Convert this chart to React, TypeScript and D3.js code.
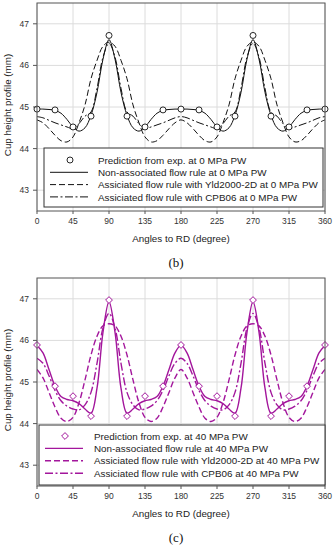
import React from 'react';
import * as d3 from 'd3';

// angles for model curves (every 7.5 deg) and experiment points (every 22.5 deg)
const angles = [0, 7.5, 15, 22.5, 30, 37.5, 45, 52.5, 60, 67.5, 75, 82.5, 90, 97.5, 105, 112.5, 120, 127.5, 135, 142.5, 150, 157.5, 165, 172.5, 180,
  187.5, 195, 202.5, 210, 217.5, 225, 232.5, 240, 247.5, 255, 262.5, 270, 277.5, 285, 292.5, 300, 307.5, 315, 322.5, 330, 337.5, 345, 352.5, 360];
const expAngles = [0, 22.5, 45, 67.5, 90, 112.5, 135, 157.5, 180, 202.5, 225, 247.5, 270, 292.5, 315, 337.5, 360];

// (b) 0 MPa PW
const exp0 = [44.95, 44.93, 44.52, 44.78, 46.72, 44.78, 44.52, 44.93, 44.95, 44.93, 44.52, 44.78, 46.72, 44.78, 44.52, 44.93, 44.95];
const nonAssoc0 = [44.95, 44.95, 44.94, 44.92, 44.85, 44.7, 44.52, 44.42, 44.5, 44.8, 45.35, 46.15, 46.62, 46.15, 45.35, 44.8, 44.5, 44.42, 44.52, 44.7, 44.85, 44.92, 44.94, 44.95, 44.95,
  44.95, 44.94, 44.92, 44.85, 44.7, 44.52, 44.42, 44.5, 44.8, 45.35, 46.15, 46.62, 46.15, 45.35, 44.8, 44.5, 44.42, 44.52, 44.7, 44.85, 44.92, 44.94, 44.95, 44.95];
const yld0 = [44.69, 44.62, 44.48, 44.32, 44.19, 44.16, 44.28, 44.62, 45.05, 45.68, 46.12, 46.46, 46.56, 46.46, 46.12, 45.68, 45.05, 44.62, 44.28, 44.16, 44.19, 44.32, 44.48, 44.62, 44.69,
  44.62, 44.48, 44.32, 44.19, 44.16, 44.28, 44.62, 45.05, 45.68, 46.12, 46.46, 46.56, 46.46, 46.12, 45.68, 45.05, 44.62, 44.28, 44.16, 44.19, 44.32, 44.48, 44.62, 44.69];
const cpb0 = [44.77, 44.74, 44.68, 44.62, 44.57, 44.52, 44.48, 44.6, 44.78, 44.88, 45.45, 46.2, 46.53, 46.2, 45.45, 44.88, 44.78, 44.6, 44.48, 44.52, 44.57, 44.62, 44.68, 44.74, 44.77,
  44.74, 44.68, 44.62, 44.57, 44.52, 44.48, 44.6, 44.78, 44.88, 45.45, 46.2, 46.53, 46.2, 45.45, 44.88, 44.78, 44.6, 44.48, 44.52, 44.57, 44.62, 44.68, 44.74, 44.77];

// (c) 40 MPa PW
const exp40 = [45.89, 44.9, 44.66, 44.18, 46.97, 44.18, 44.66, 44.9, 45.89, 44.9, 44.66, 44.18, 46.97, 44.18, 44.66, 44.9, 45.89];
const nonAssoc40 = [45.88, 45.7, 45.3, 44.9, 44.65, 44.58, 44.55, 44.48, 44.35, 44.25, 44.85, 46.2, 46.93, 46.2, 44.85, 44.25, 44.35, 44.48, 44.55, 44.58, 44.65, 44.9, 45.3, 45.7, 45.88,
  45.7, 45.3, 44.9, 44.65, 44.58, 44.55, 44.48, 44.35, 44.25, 44.85, 46.2, 46.93, 46.2, 44.85, 44.25, 44.35, 44.48, 44.55, 44.58, 44.65, 44.9, 45.3, 45.7, 45.88];
const yld40 = [45.3, 45.1, 44.75, 44.4, 44.13, 44.05, 44.15, 44.5, 45.05, 45.65, 46.1, 46.35, 46.4, 46.35, 46.1, 45.65, 45.05, 44.5, 44.15, 44.05, 44.13, 44.4, 44.75, 45.1, 45.3,
  45.1, 44.75, 44.4, 44.13, 44.05, 44.15, 44.5, 45.05, 45.65, 46.1, 46.35, 46.4, 46.35, 46.1, 45.65, 45.05, 44.5, 44.15, 44.05, 44.13, 44.4, 44.75, 45.1, 45.3];
const cpb40 = [45.57, 45.45, 45.15, 44.8, 44.55, 44.42, 44.35, 44.33, 44.45, 44.75, 45.45, 46.3, 46.65, 46.3, 45.45, 44.75, 44.45, 44.33, 44.35, 44.42, 44.55, 44.8, 45.15, 45.45, 45.57,
  45.45, 45.15, 44.8, 44.55, 44.42, 44.35, 44.33, 44.45, 44.75, 45.45, 46.3, 46.65, 46.3, 45.45, 44.75, 44.45, 44.33, 44.35, 44.42, 44.55, 44.8, 45.15, 45.45, 45.57];

const xTicks = [0, 45, 90, 135, 180, 225, 270, 315, 360];
const yTicks = [43, 44, 45, 46, 47];

const labels0 = [
  'Prediction from exp. at 0 MPa PW',
  'Non-associated flow rule at 0 MPa PW',
  'Assiciated flow rule with Yld2000-2D at 0 MPa PW',
  'Assiciated flow rule with CPB06 at 0 MPa PW',
];
const labels40 = [
  'Prediction from exp. at 40 MPa PW',
  'Non-associated flow rule at 40 MPa PW',
  'Assiciated flow rule with Yld2000-2D at 40 MPa PW',
  'Assiciated flow rule with CPB06 at 40 MPa PW',
];

const FONT = '"Liberation Sans", Arial, sans-serif';
const DASH = '6,3';
const DASHDOT = '8,2.5,2,2.5';

function Marker({ kind, cx, cy, color }) {
  if (kind === 'circle') {
    return <circle cx={cx} cy={cy} r={3} fill="white" stroke={color} strokeWidth={0.9} />;
  }
  const s = 3.4;
  return (
    <path d={`M${cx},${cy - s}L${cx + s},${cy}L${cx},${cy + s}L${cx - s},${cy}Z`}
      fill="white" stroke={color} strokeWidth={1} />
  );
}

function Panel({ top, bottom, color, lw, marker, exp, solid, dashed, dashdot, labels, legend, caption }) {
  const x = d3.scaleLinear().domain([0, 360]).range([37, 325]);
  const y = d3.scaleLinear().domain([42.5, 47.5]).range([bottom, top]);
  const line = d3.line().x((d) => x(d[0])).y((d) => y(d[1])).curve(d3.curveCatmullRom.alpha(0.5));
  const mk = (vals) => line(angles.map((a, i) => [a, vals[i]]));
  const series = [
    { vals: solid, dash: null },
    { vals: dashed, dash: DASH },
    { vals: dashdot, dash: DASHDOT },
  ];
  const rowY = (i) => legend.y0 + i * legend.dy;
  return (
    <g>
      <defs>
        <clipPath id={'clip' + top}>
          <rect x={37} y={top} width={288} height={bottom - top} />
        </clipPath>
      </defs>
      {xTicks.map((t) => (
        <line key={'gx' + t} x1={x(t)} x2={x(t)} y1={top} y2={bottom} stroke="#dcdcdc" strokeWidth={1} />
      ))}
      {yTicks.map((t) => (
        <line key={'gy' + t} x1={37} x2={325} y1={y(t)} y2={y(t)} stroke="#dcdcdc" strokeWidth={1} />
      ))}
      <g clipPath={`url(#clip${top})`}>
        {series.map((s, i) => (
          <path key={i} d={mk(s.vals)} fill="none" stroke={color} strokeWidth={lw}
            strokeDasharray={s.dash || undefined} />
        ))}
      </g>
      {expAngles.map((a, i) => (
        <Marker key={i} kind={marker} cx={x(a)} cy={y(exp[i])} color={color} />
      ))}
      <rect x={37} y={top} width={288} height={bottom - top} fill="none" stroke="#555" strokeWidth={1} />
      {xTicks.map((t) => (
        <g key={'tx' + t}>
          <line x1={x(t)} x2={x(t)} y1={bottom} y2={bottom + 3} stroke="#555" />
          <text x={x(t)} y={bottom + 13} fontSize={8.5} fontFamily={FONT} textAnchor="middle" fill="#333">{t}</text>
        </g>
      ))}
      {yTicks.map((t) => (
        <g key={'ty' + t}>
          <line x1={33} x2={37} y1={y(t)} y2={y(t)} stroke="#555" />
          <text x={29} y={y(t) + 3} fontSize={8.5} fontFamily={FONT} textAnchor="end" fill="#333">{t}</text>
        </g>
      ))}
      <text x={181} y={bottom + 31} fontSize={9.8} fontFamily={FONT} textAnchor="middle" fill="#222">Angles to RD (degree)</text>
      <text transform={`translate(11,${(top + bottom) / 2 - 2}) rotate(-90)`} fontSize={9.8} fontFamily={FONT}
        textAnchor="middle" fill="#222">Cup height profile (mm)</text>
      <rect x={legend.x0} y={legend.top} width={legend.x1 - legend.x0} height={legend.bottom - legend.top}
        fill="white" stroke="#333" strokeWidth={1} />
      <Marker kind={marker} cx={legend.mx} cy={rowY(0)} color={color} />
      {series.map((s, i) => (
        <line key={'ll' + i} x1={legend.lx0} x2={legend.lx1} y1={rowY(i + 1)} y2={rowY(i + 1)}
          stroke={color} strokeWidth={lw} strokeDasharray={s.dash || undefined} />
      ))}
      {labels.map((l, i) => (
        <text key={'lt' + i} x={legend.tx} y={rowY(i) + 3.6} fontSize={9.85} fontFamily={FONT} fill="#222">{l}</text>
      ))}
      <text x={176} y={bottom + 56} fontSize={13} fontFamily='"Liberation Serif", serif' textAnchor="middle" fill="#111">{caption}</text>
    </g>
  );
}

export default function App() {
  return (
    <svg width={336} height={550} style={{ position: 'absolute', left: 0, top: 0, background: 'white' }}>
      <Panel top={3} bottom={211} color="#111" lw={1} marker="circle"
        exp={exp0} solid={nonAssoc0} dashed={yld0} dashdot={cpb0} labels={labels0}
        legend={{ x0: 44, x1: 323, top: 148, bottom: 207, y0: 160, dy: 12.3, mx: 70, lx0: 50, lx1: 88, tx: 98 }}
        caption="(b)" />
      <Panel top={278} bottom={486} color="#a3169c" lw={1.4} marker="diamond"
        exp={exp40} solid={nonAssoc40} dashed={yld40} dashdot={cpb40} labels={labels40}
        legend={{ x0: 39, x1: 325, top: 425, bottom: 485, y0: 436, dy: 12.4, mx: 65, lx0: 45, lx1: 83, tx: 94 }}
        caption="(c)" />
    </svg>
  );
}
